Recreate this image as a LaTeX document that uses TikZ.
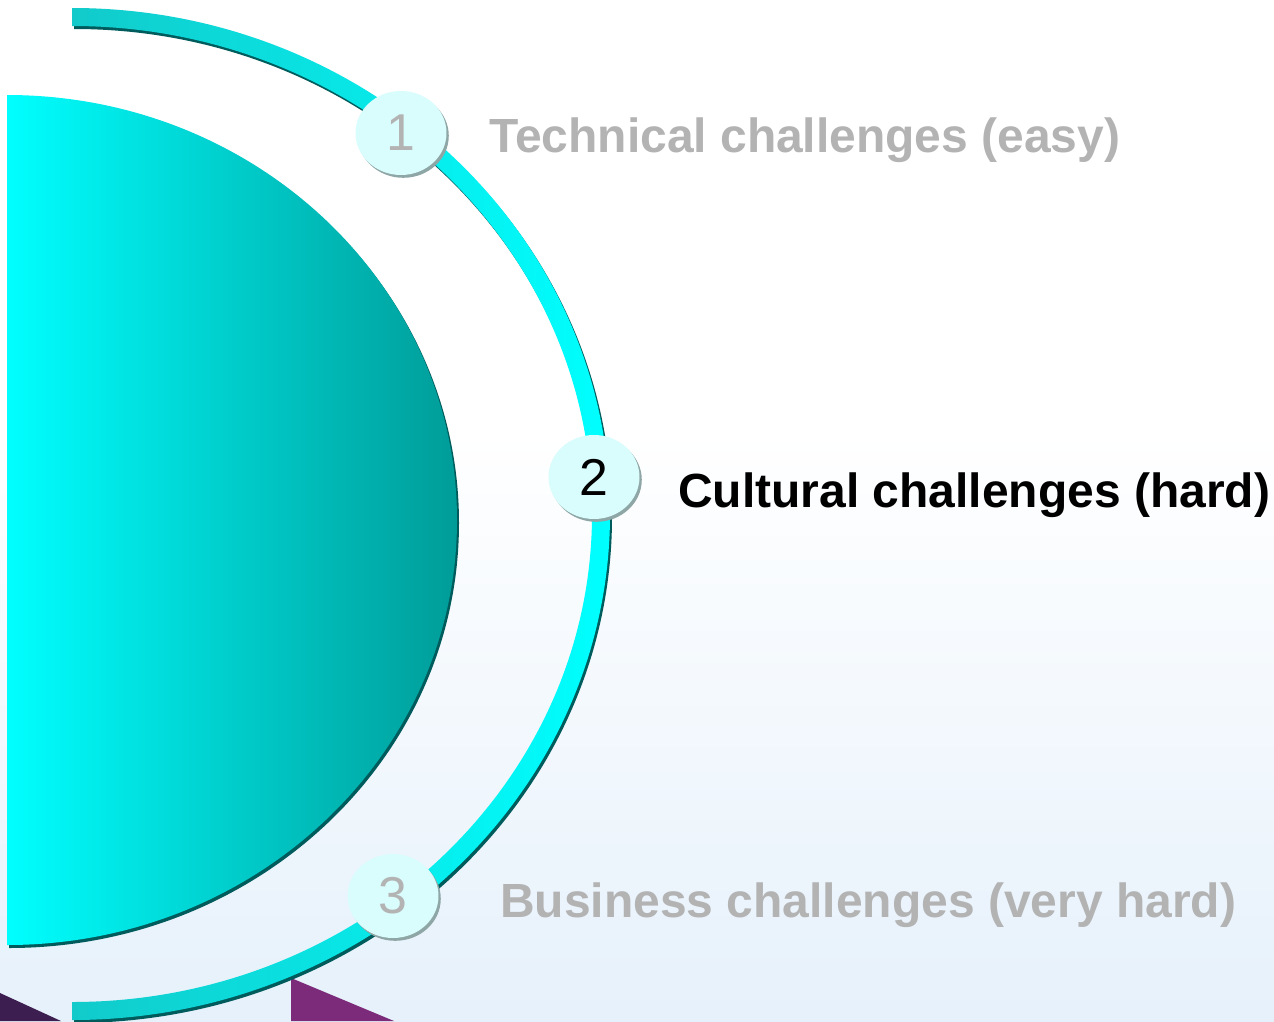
\documentclass[tikz,border=0pt]{standalone}
\usepackage{fontspec}
\setmainfont{Liberation Sans}
\usepackage{tikz}
\usetikzlibrary{positioning}
\usetikzlibrary{shapes.geometric}
\usetikzlibrary{shadows}
\definecolor{BgBottom}{HTML}{E6F1FB}
\definecolor{DiscRight}{HTML}{009C98}
\definecolor{DiscShadow}{HTML}{005C5C}
\definecolor{BandLeft}{HTML}{12CACA}
\definecolor{NumFill}{HTML}{D9FCFC}
\definecolor{NumShadow}{HTML}{8EA6A6}
\definecolor{LabelGray}{HTML}{B3B3B3}
\definecolor{PurpleDark}{HTML}{3C1E50}
\definecolor{PurpleMag}{HTML}{7C2A7A}
\newcommand{\bandpath}{(72,8) arc[start angle=-90,end angle=90,x radius=538,y radius=506] -- (72,1002) arc[start angle=90,end angle=-90,x radius=520,y radius=488] -- cycle}
\newcommand{\discpath}{(7,95) arc[start angle=-90,end angle=90,x radius=450,y radius=425] -- cycle}

\begin{document}
\begin{tikzpicture}[x=0.02cm,y=-0.02cm]
	\tikzset{
		num/.style={ellipse,fill=NumFill,minimum width=1.82cm,minimum height=1.68cm,inner sep=0pt,
			font=\fontsize{29.5}{29.5}\selectfont,
			drop shadow={fill=NumShadow,opacity=1,shadow xshift=1.3pt,shadow yshift=-1.6pt}},
		lbl/.style={anchor=base west,inner sep=0pt,font=\fontsize{27.3}{27.3}\selectfont\bfseries},
	}
	\useasboundingbox (0,0) rectangle (1274,1021);
	\fill[white] (0,0) rectangle (1274,1021);
	\shade[top color=white,bottom color=BgBottom] (0,430) rectangle (1274,1021);
	
	\fill[PurpleDark] (0,993) -- (61,1021) -- (0,1021) -- cycle;
	\fill[PurpleMag] (291,978) -- (394,1021) -- (291,1021) -- cycle;
	
	\fill[DiscShadow,shift={(2,3)}] \discpath;
	\shade[left color=cyan,right color=DiscRight] \discpath;
	
	\fill[DiscShadow,shift={(2,3)}] \bandpath;
	\shade[left color=BandLeft,middle color=cyan,right color=cyan] \bandpath;
	
	\node[num,text=LabelGray] (n1) at (401,133) {1};
	\node[num] (n2) at (594,477) {2};
	\node[num,text=LabelGray] (n3) at (393,896) {3};
	
	\node[lbl,text=LabelGray] (l1) at (489,152) {Technical challenges (easy)};
	\node[lbl] (l2) at (678,507) {Cultural challenges (hard)};
	\node[lbl,text=LabelGray] (l3) at (500,917) {Business challenges (very hard)};
\end{tikzpicture}
\end{document}
